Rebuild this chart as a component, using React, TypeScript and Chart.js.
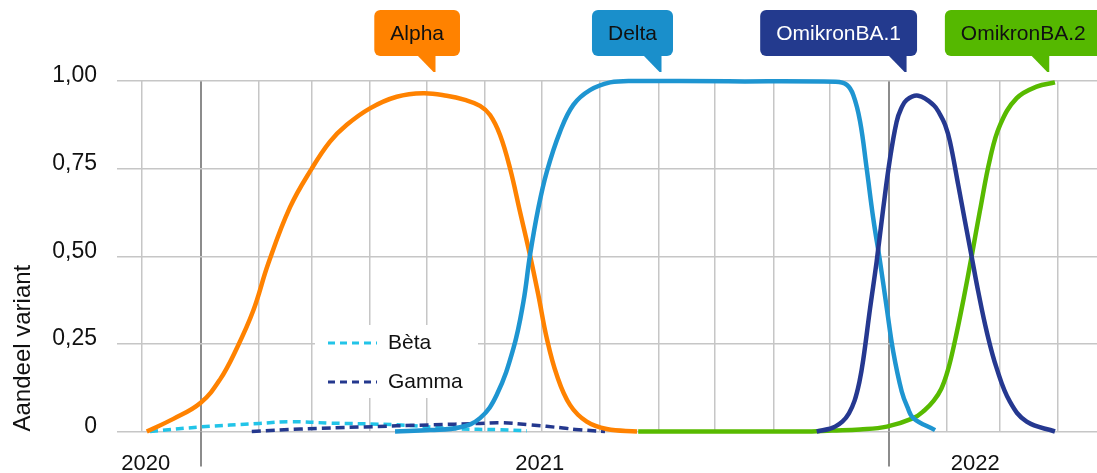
import React, { useEffect, useRef } from "react";
import { Chart, registerables } from "chart.js";

Chart.register(...registerables);

// x values are days counted from 1 January 2021
const alphaDays = [-28.5, -14.4, 0.1, 10.3, 19.2, 28.0, 36.0, 47.5, 59.0, 68.7, 77.6, 89.9, 104.1, 118.2, 130.6, 140.3, 148.3, 153.6, 158.9, 164.2, 169.5, 174.8, 179.2, 183.7, 189.0, 196.0, 204.9, 215.5, 231.6];
const alphaShare = [0, 0.036, 0.082, 0.148, 0.237, 0.345, 0.48, 0.64, 0.75, 0.827, 0.875, 0.922, 0.955, 0.965, 0.958, 0.946, 0.929, 0.903, 0.846, 0.751, 0.627, 0.503, 0.39, 0.266, 0.161, 0.076, 0.028, 0.007, 0];

const deltaDays = [103.2, 121.8, 137.7, 148.3, 157.1, 166.0, 171.3, 174.8, 179.2, 183.7, 190.7, 197.8, 206.6, 217.3, 227.9, 280, 337, 342.9, 346.3, 349.9, 353.4, 356.9, 360.5, 364.1, 367.5, 372.0, 375.0, 378.2, 389.7];
const deltaShare = [0, 0.004, 0.012, 0.038, 0.104, 0.237, 0.37, 0.503, 0.637, 0.741, 0.855, 0.932, 0.974, 0.996, 1.0, 0.999, 0.998, 0.989, 0.96, 0.885, 0.751, 0.608, 0.485, 0.351, 0.228, 0.114, 0.07, 0.038, 0.004];

const ba1Days = [326.9, 333.9, 336.0, 340.5, 344.0, 347.0, 349.5, 351.6, 355.2, 358.7, 362.2, 365.8, 369.3, 371.6, 374.6, 380.8, 388.8, 392.3, 395.0, 397.6, 402.0, 405.6, 409.1, 412.6, 417.1, 422.4, 429.4, 438.3, 453.3];
const ba1Share = [0, 0.008, 0.012, 0.028, 0.052, 0.088, 0.14, 0.205, 0.351, 0.485, 0.637, 0.779, 0.884, 0.92, 0.946, 0.958, 0.932, 0.905, 0.875, 0.827, 0.703, 0.599, 0.499, 0.399, 0.285, 0.18, 0.085, 0.028, 0];

const ba2Days = [232.2, 280, 320, 335, 349.9, 364.1, 378.2, 384.0, 389.0, 393.0, 396.5, 400.3, 404.7, 409.1, 413.5, 418.9, 424.2, 433.0, 443.6, 453.3];
const ba2Share = [0, 0, 0, 0.003, 0.006, 0.014, 0.038, 0.06, 0.088, 0.122, 0.175, 0.26, 0.375, 0.5, 0.63, 0.779, 0.875, 0.951, 0.984, 0.996];

const betaDays = [-26.8, 0.1, 31.2, 47.5, 68.7, 104.1, 135.5, 158.9, 173.2];
const betaShare = [0, 0.013, 0.023, 0.028, 0.024, 0.019, 0.008, 0.005, 0.002];

const gammaDays = [27.2, 52.8, 86.4, 121.8, 148.3, 158.9, 174.8, 192.3, 198.9, 214.6];
const gammaShare = [0, 0.007, 0.013, 0.019, 0.023, 0.025, 0.019, 0.01, 0.006, 0];

const monthStarts = ["2020-12-01", "2021-01-01", "2021-02-01", "2021-03-01", "2021-04-01", "2021-05-01", "2021-06-01", "2021-07-01", "2021-08-01", "2021-09-01", "2021-10-01", "2021-11-01", "2021-12-01", "2022-01-01", "2022-02-01", "2022-03-01", "2022-04-01"];
const yearLabels = ["2020", "2021", "2022"];
const yearLabelDays = [-29, 180, 411];
const yTickValues = [0, 0.25, 0.5, 0.75, 1];

const legendLabels = ["Bèta", "Gamma"];
const calloutLabels = ["Alpha", "Delta", "OmikronBA.1", "OmikronBA.2"];
const calloutDays = [124.4, 244.3, 374.3, 450];

// styles
const FONT = "'Liberation Sans', Arial, Helvetica, sans-serif";
const calloutStyles = [
  { fill: "#FF8200", text: "#111111", rightOffset: 25 },
  { fill: "#1A8FCB", text: "#111111", rightOffset: 12 },
  { fill: "#233A8E", text: "#FFFFFF", rightOffset: 11 },
  { fill: "#55B800", text: "#111111", rightOffset: 53 },
];

const EPOCH = Date.UTC(2021, 0, 1);
const toDay = (iso: string) => {
  const [y, m, d] = iso.split("-").map(Number);
  return Math.round((Date.UTC(y, m - 1, d) - EPOCH) / 86400000);
};
const monthDays = monthStarts.map(toDay);
const yearStartDays = monthStarts.filter((s) => s.endsWith("-01-01")).map(toDay);

const pts = (xs: number[], ys: number[]) => xs.map((x, i) => ({ x, y: ys[i] }));

const calloutPlugin = {
  id: "callouts",
  afterDraw(chart: any) {
    const ctx = chart.ctx;
    const xs = chart.scales.x;
    ctx.save();
    ctx.font = `21px ${FONT}`;
    calloutLabels.forEach((label, i) => {
      const st = calloutStyles[i];
      const tipX = xs.getPixelForValue(calloutDays[i]);
      const w = ctx.measureText(label).width + 32;
      const right = tipX + st.rightOffset;
      const left = right - w;
      const top = 10;
      const bottom = 56;
      const tipY = 72;
      ctx.fillStyle = st.fill;
      ctx.beginPath();
      ctx.roundRect(left, top, w, bottom - top, 6);
      ctx.fill();
      ctx.beginPath();
      ctx.moveTo(tipX - 18, bottom - 1);
      ctx.lineTo(tipX + 0.5, bottom - 1);
      ctx.lineTo(tipX + 0.5, tipY);
      ctx.lineTo(tipX - 1.5, tipY);
      ctx.closePath();
      ctx.fill();
      ctx.fillStyle = st.text;
      ctx.textAlign = "center";
      ctx.textBaseline = "middle";
      ctx.fillText(label, (left + right) / 2, (top + bottom) / 2 + 1);
    });
    ctx.restore();
  },
};

const insideLegendPlugin = {
  id: "insideLegend",
  beforeDatasetsDraw(chart: any) {
    const { ctx, chartArea } = chart;
    const x0 = chartArea.left + 198;
    const y0 = chartArea.top + 244;
    ctx.save();
    ctx.fillStyle = "#FFFFFF";
    ctx.fillRect(x0, y0, 163, 73);
    legendLabels.forEach((label, i) => {
      const ds = chart.data.datasets.find((d: any) => d.label === label);
      if (!ds) return;
      const y = y0 + 18 + i * 39;
      ctx.strokeStyle = ds.borderColor;
      ctx.lineWidth = 3;
      ctx.setLineDash([7, 5]);
      ctx.beginPath();
      ctx.moveTo(x0 + 13, y);
      ctx.lineTo(x0 + 62, y);
      ctx.stroke();
      ctx.setLineDash([]);
      ctx.fillStyle = "#111111";
      ctx.font = `21px ${FONT}`;
      ctx.textAlign = "left";
      ctx.textBaseline = "middle";
      ctx.fillText(label, x0 + 73, y);
    });
    ctx.restore();
  },
};

const yearLinePlugin = {
  id: "yearLines",
  beforeDatasetsDraw(chart: any) {
    const { ctx, chartArea } = chart;
    const xs = chart.scales.x;
    ctx.save();
    ctx.strokeStyle = "#8C8C8C";
    ctx.lineWidth = 2;
    yearStartDays.forEach((d) => {
      const px = Math.round(xs.getPixelForValue(d));
      ctx.beginPath();
      ctx.moveTo(px, chartArea.bottom);
      ctx.lineTo(px, chartArea.bottom + 35);
      ctx.stroke();
    });
    ctx.restore();
  },
};

export default function App() {
  const canvasRef = useRef<HTMLCanvasElement | null>(null);

  useEffect(() => {
    const canvas = canvasRef.current;
    if (!canvas) return;
    const lineDs = (label: string, xs: number[], ys: number[], color: string, width: number, dash: number[] = []) => ({
      label,
      data: pts(xs, ys),
      borderColor: color,
      backgroundColor: color,
      borderWidth: width,
      borderDash: dash,
      pointRadius: 0,
      pointHoverRadius: 0,
      fill: false,
      tension: 0.4,
      clip: false as const,
      borderCapStyle: "butt" as const,
      borderJoinStyle: "round" as const,
    });

    const chart = new Chart(canvas, {
      type: "line",
      data: {
        datasets: [
          lineDs("OmikronBA.1", ba1Days, ba1Share, "#253890", 4.5),
          lineDs("Delta", deltaDays, deltaShare, "#1E95D1", 4.5),
          lineDs("OmikronBA.2", ba2Days, ba2Share, "#58BA00", 4.5),
          lineDs("Alpha", alphaDays, alphaShare, "#FF8200", 4.5),
          lineDs("Gamma", gammaDays, gammaShare, "#24388E", 3.5, [9, 5]),
          lineDs("Bèta", betaDays, betaShare, "#22C4E8", 3.5, [8, 5]),
        ],
      },
      options: {
        responsive: false,
        animation: false,
        devicePixelRatio: 1,
        events: [],
        layout: { padding: { top: 81, right: 0, bottom: 0, left: 0 } },
        plugins: {
          legend: { display: false },
          tooltip: { enabled: false },
          title: { display: false },
        },
        scales: {
          x: {
            type: "linear",
            min: -44.3,
            max: 475.6,
            border: { display: false },
            afterBuildTicks: (scale: any) => {
              const vals = [...monthDays, ...yearLabelDays].sort((a, b) => a - b);
              scale.ticks = vals.map((v) => ({ value: v }));
            },
            afterFit: (scale: any) => {
              scale.height = 41.5;
            },
            grid: {
              drawTicks: false,
              color: (c: any) => {
                const v = c.tick ? c.tick.value : null;
                if (v === null || yearLabelDays.includes(v)) return "rgba(0,0,0,0)";
                if (yearStartDays.includes(v)) return "#8C8C8C";
                return "#C6C6C6";
              },
              lineWidth: (c: any) => {
                const v = c.tick ? c.tick.value : null;
                return v !== null && yearStartDays.includes(v) ? 2 : 1.5;
              },
            },
            ticks: {
              autoSkip: false,
              maxRotation: 0,
              minRotation: 0,
              padding: 19,
              color: "#111111",
              font: { family: FONT, size: 22 },
              callback: (value: any) => {
                const i = yearLabelDays.indexOf(Number(value));
                return i >= 0 ? yearLabels[i] : "";
              },
            },
          },
          y: {
            type: "linear",
            min: 0,
            max: 1,
            border: { display: false },
            afterBuildTicks: (scale: any) => {
              scale.ticks = yTickValues.map((v) => ({ value: v }));
            },
            afterFit: (scale: any) => {
              scale.width = 117;
            },
            grid: {
              drawTicks: false,
              color: "#C6C6C6",
              lineWidth: 1.5,
            },
            ticks: {
              padding: 20,
              labelOffset: -5,
              color: "#111111",
              font: { family: FONT, size: 23 },
              callback: (value: any) => (Number(value) === 0 ? "0" : Number(value).toFixed(2).replace(".", ",")),
            },
            title: {
              display: true,
              text: "Aandeel variant",
              align: "start",
              color: "#111111",
              font: { family: FONT, size: 24 },
              padding: { top: 9, bottom: 0 },
            },
          },
        },
      },
      plugins: [yearLinePlugin, insideLegendPlugin, calloutPlugin],
    } as any);

    return () => {
      chart.destroy();
    };
  }, []);

  return (
    <div style={{ position: "absolute", left: 0, top: 0, width: 1097, height: 473, background: "#FFFFFF" }}>
      <canvas ref={canvasRef} width={1097} height={473} style={{ display: "block" }} />
    </div>
  );
}
